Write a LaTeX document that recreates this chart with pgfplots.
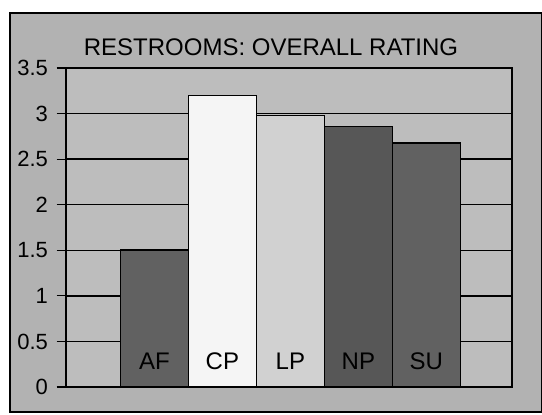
\documentclass[border=0pt]{standalone}
\usepackage{pgfplots}
\pgfplotsset{compat=1.18}
\usepackage{fontspec}
\setmainfont{Liberation Sans}
\begin{document}
\begin{tikzpicture}[x=0.75pt,y=0.75pt]
\path[use as bounding box] (-66,-27) rectangle (476,387);
\fill[white] (-66,-27) rectangle (476,387);
\filldraw[fill=black!30, draw=black, line width=1.3pt] (-56,-25) rectangle (476,374);
\node[font=\fontsize{18}{21}\selectfont] at (205,340) {RESTROOMS: OVERALL RATING};
\begin{axis}[
  at={(0,0)}, anchor=south west,
  scale only axis, width=334.5pt, height=239.25pt,
  xmin=-1.30, xmax=5.26, ymin=0, ymax=3.5,
  ytick={0,0.5,1,1.5,2,2.5,3,3.5},
  yticklabels={0,0.5,1,1.5,2,2.5,3,3.5},
  xtick=\empty,
  yticklabel style={font=\fontsize{16.5}{20}\selectfont, xshift=-3pt},
  ytick pos=left, tick align=outside, major tick length=7pt,
  ytick style={black, line width=0.9pt},
  ymajorgrids, grid style={black, line width=1pt},
  axis background/.style={fill=black!26},
  axis line style={black, line width=1.4pt},
  /pgf/number format/assume math mode=true,
]
\addplot[ybar, bar width=1, bar shift=0pt, fill=black!62, draw=black, line width=1.2pt] coordinates {(0,1.5)};
\addplot[ybar, bar width=1, bar shift=0pt, fill=black!4, draw=black, line width=1.2pt] coordinates {(1,3.2)};
\addplot[ybar, bar width=1, bar shift=0pt, fill=black!18, draw=black, line width=1.2pt] coordinates {(2,2.98)};
\addplot[ybar, bar width=1, bar shift=0pt, fill=black!66, draw=black, line width=1.2pt] coordinates {(3,2.86)};
\addplot[ybar, bar width=1, bar shift=0pt, fill=black!62, draw=black, line width=1.2pt] coordinates {(4,2.68)};
\end{axis}
\begin{axis}[
  at={(0,0)}, anchor=south west,
  scale only axis, width=334.5pt, height=239.25pt,
  xmin=-1.30, xmax=5.26, ymin=0, ymax=3.5,
  ytick=\empty,
  xtick={0,1,2,3,4},
  xticklabels={AF,CP,LP,NP,SU},
  xtick style={draw=none},
  axis line style={draw=none},
  xticklabel style={anchor=base, yshift=13.5pt, font=\fontsize{18}{21}\selectfont},
]
\end{axis}
\end{tikzpicture}
\end{document}
